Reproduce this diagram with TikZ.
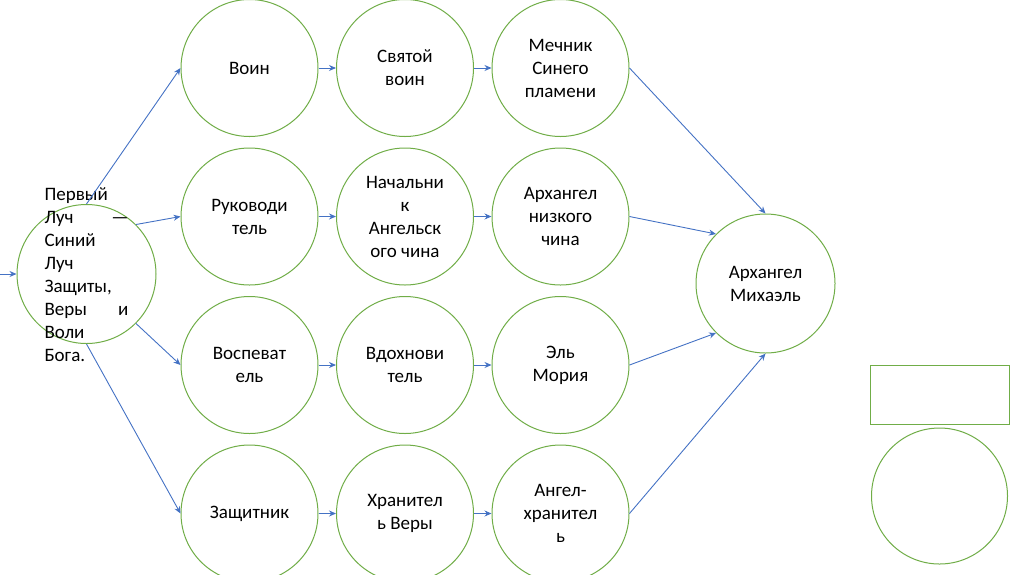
\documentclass[tikz,border=0pt]{standalone}
\usepackage{fontspec}
\setmainfont{Carlito}
\usetikzlibrary{arrows.meta,positioning}
\definecolor{Leaf}{HTML}{70AD47}
\definecolor{Wire}{HTML}{4472C4}
\tikzset{
  stage/.style={
    circle, draw=Leaf, line width=1pt, fill=white,
    minimum size=137pt, inner sep=0pt, align=center,
    font=\fontsize{19}{23}\selectfont
  },
  hub/.style={stage, minimum size=139pt},
  legendbox/.style={draw=Leaf, line width=1pt, minimum width=139pt, minimum height=59pt},
  flow/.style={-{Stealth[length=7pt,width=6pt]}, line width=0.9pt, draw=Wire}
}

\begin{document}
\begin{tikzpicture}[x=1pt,y=-1pt,node distance=10.5pt and 17.5pt]
    \useasboundingbox (0,0) rectangle (1024,574);
    % source ray
    \node[hub] (ray) at (86.5,274) {};
    \node[font=\fontsize{19}{23}\selectfont, text width=84pt, inner sep=0pt, align=justify] (raytext) at (86.5,275)
      {Первый\par Луч\hfill—\par Синий\par Луч\par Защиты,\par Веры\hfill и\par Воли\par Бога.};
    \coordinate (in) at (0,274);
    % first column
    \node[stage] (warrior) at (249.5,68) {Воин};
    \node[stage,below=of warrior] (leader) {Руководи\\тель};
    \node[stage,below=of leader] (singer) {Воспеват\\ель};
    \node[stage,below=of singer] (guard) {Защитник};
    % second column
    \node[stage,right=of warrior] (saint) {Святой\\воин};
    \node[stage,right=of leader] (chief) {Начальни\\к\\Ангельск\\ого чина};
    \node[stage,right=of singer] (muse) {Вдохнови\\тель};
    \node[stage,right=of guard] (keeper) {Хранител\\ь Веры};
    % third column
    \node[stage,right=of saint] (sword) {Мечник\\Синего\\пламени};
    \node[stage,right=of chief] (lowarch) {Архангел\\низкого\\чина};
    \node[stage,right=of muse] (moria) {Эль\\Мория};
    \node[stage,right=of keeper] (angel) {Ангел-\\хранител\\ь};
    % target
    \node[hub] (michael) at (765.5,283.5) {Архангел\\Михаэль};
    % legend
    \node[legendbox] (lgbox) at (939.5,394.5) {};
    \node[stage,minimum size=136pt] (lgcirc) at (939.5,496) {};
    % arrows
    \draw[flow] (in)--(ray.west);
    \draw[flow] (ray.north)--(warrior.west);
    \draw[flow] (ray.45)--(leader.west);
    \draw[flow] (ray.-45)--(singer.west);
    \draw[flow] (ray.south)--(guard.west);
    \draw[flow] (warrior)--(saint);
    \draw[flow] (leader)--(chief);
    \draw[flow] (singer)--(muse);
    \draw[flow] (guard)--(keeper);
    \draw[flow] (saint)--(sword);
    \draw[flow] (chief)--(lowarch);
    \draw[flow] (muse)--(moria);
    \draw[flow] (keeper)--(angel);
    \draw[flow] (sword.east)--(michael.north);
    \draw[flow] (lowarch.east)--(michael.135);
    \draw[flow] (moria.east)--(michael.-135);
    \draw[flow] (angel.east)--(michael.south);
\end{tikzpicture}
\end{document}
